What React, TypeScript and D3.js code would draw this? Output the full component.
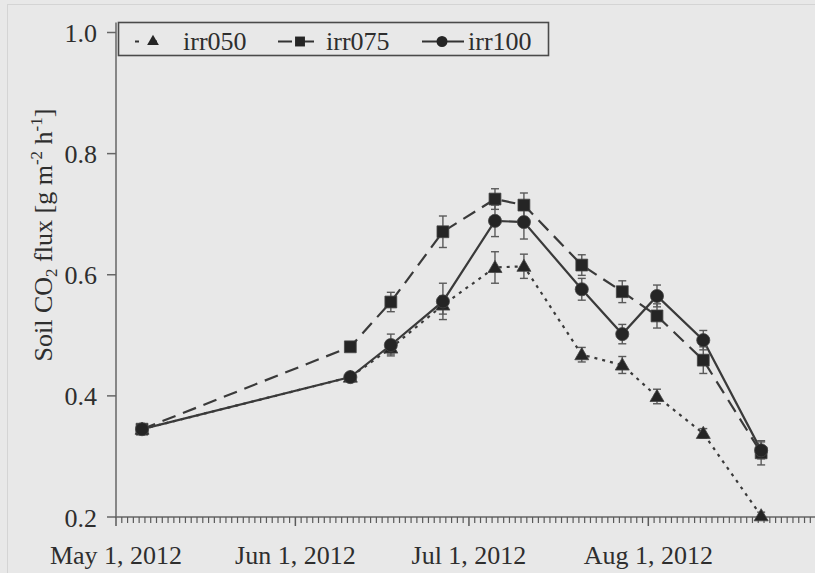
import React from "react";
import * as d3 from "d3";

// ---- data ----
const dates = [
  "2012-05-05T12:00",
  "2012-06-10T12:00",
  "2012-06-17T12:00",
  "2012-06-26T12:00",
  "2012-07-05T12:00",
  "2012-07-10T12:00",
  "2012-07-20T12:00",
  "2012-07-27T12:00",
  "2012-08-02T12:00",
  "2012-08-10T12:00",
  "2012-08-20T12:00",
];
const irr050 = [0.345, 0.431, 0.479, 0.55, 0.612, 0.614, 0.468, 0.451, 0.399, 0.338, 0.202];
const irr075 = [0.345, 0.481, 0.555, 0.671, 0.725, 0.715, 0.616, 0.572, 0.532, 0.459, 0.306];
const irr100 = [0.345, 0.431, 0.484, 0.556, 0.689, 0.687, 0.576, 0.502, 0.565, 0.492, 0.31];
const err050 = [0.004, 0.006, 0.01, 0.015, 0.026, 0.02, 0.012, 0.014, 0.012, 0.008, 0.006];
const err075 = [0.004, 0.006, 0.016, 0.026, 0.017, 0.02, 0.017, 0.018, 0.02, 0.022, 0.02];
const err100 = [0.004, 0.006, 0.018, 0.03, 0.026, 0.028, 0.018, 0.016, 0.018, 0.016, 0.014];
const seriesNames = ["irr050", "irr075", "irr100"];
const yTicks = [0.2, 0.4, 0.6, 0.8, 1.0];
const xTickDates = ["2012-05-01", "2012-06-01", "2012-07-01", "2012-08-01"];
const xTickLabels = ["May 1, 2012", "Jun 1, 2012", "Jul 1, 2012", "Aug 1, 2012"];

const W = 815;
const H = 573;
const BG = "#e8e8e8";
const INK = "#2e2e2e";
const AXIS = "#666";
const FONT = "'Liberation Serif', 'Times New Roman', serif";

const parseDT = d3.timeParse("%Y-%m-%dT%H:%M");
const parseD = d3.timeParse("%Y-%m-%d");

export default function App() {
  const x0 = 116;
  const pxPerDay = 5.786;
  const start = parseD("2012-05-01") as Date;
  const end = parseD("2012-09-01") as Date;
  const nDays = d3.timeDay.count(start, end);
  const x = d3.scaleTime().domain([start, end]).range([x0, x0 + pxPerDay * nDays]);
  const y = d3.scaleLinear().domain([0.2, 1.0]).range([517, 32.5]);

  const ds = dates.map((d) => parseDT(d) as Date);
  const series = [
    { name: seriesNames[0], vals: irr050, errs: err050, dash: "3,5", sym: d3.symbolTriangle, size: 85 },
    { name: seriesNames[1], vals: irr075, errs: err075, dash: "14,8", sym: d3.symbolSquare, size: 140 },
    { name: seriesNames[2], vals: irr100, errs: err100, dash: null, sym: d3.symbolCircle, size: 135 },
  ];

  const line = d3
    .line<number>()
    .x((_, i) => x(ds[i]))
    .y((v) => y(v));

  const axisY = y(0.2);
  const dayTicks = d3.timeDay.range(start, d3.timeDay.offset(end, 1));
  const majorSet = new Set(xTickDates.map((s) => (parseD(s) as Date).getTime()));

  const legendItems = [
    { s: series[0], x1: 135, x2: 168, mx: 153, tx: 183 },
    { s: series[1], x1: 278, x2: 320, mx: 300, tx: 326 },
    { s: series[2], x1: 422, x2: 464, mx: 442, tx: 468 },
  ];
  const legY = 41.5;

  return (
    <div style={{ position: "fixed", left: 0, top: 0 }}>
      <svg width={W} height={H} style={{ display: "block", background: BG }} fontFamily={FONT}>
        <rect x={0} y={0} width={W} height={H} fill={BG} />
        {/* faint frame of scanned figure */}
        <line x1={7.5} y1={4} x2={7.5} y2={H} stroke="#d4d4d4" strokeWidth={1} />
        <line x1={7} y1={4.5} x2={W} y2={4.5} stroke="#d4d4d4" strokeWidth={1} />

        {/* y axis */}
        <line x1={x0} y1={axisY} x2={x0} y2={22.5} stroke={AXIS} strokeWidth={1.5} />
        {yTicks.map((t) => (
          <g key={t}>
            <line x1={107} x2={x0} y1={y(t)} y2={y(t)} stroke={AXIS} strokeWidth={1.5} />
            <text x={97} y={y(t) + 9.5} textAnchor="end" fontSize={26} fill={INK}>
              {t.toFixed(1)}
            </text>
          </g>
        ))}

        {/* x axis */}
        <line x1={x0 - 1} x2={W} y1={axisY} y2={axisY} stroke={AXIS} strokeWidth={1.6} />
        {dayTicks.map((d) => {
          const major = majorSet.has(d.getTime());
          return (
            <line
              key={d.getTime()}
              x1={x(d)}
              x2={x(d)}
              y1={axisY}
              y2={axisY + (major ? 9 : 6)}
              stroke="#5a5a5a"
              strokeWidth={major ? 1.5 : 1.2}
            />
          );
        })}
        {xTickDates.map((s, i) => (
          <text key={s} x={x(parseD(s) as Date)} y={564} textAnchor="middle" fontSize={26} fill={INK}>
            {xTickLabels[i]}
          </text>
        ))}

        {/* y title */}
        <text
          transform={`translate(52, 235) rotate(-90)`}
          textAnchor="middle"
          fontSize={26}
          fill={INK}
        >
          Soil CO
          <tspan fontSize={17} dy={5}>2</tspan>
          <tspan dy={-5}> flux [g m</tspan>
          <tspan fontSize={17} dy={-10}>-2</tspan>
          <tspan dy={10}> h</tspan>
          <tspan fontSize={17} dy={-10}>-1</tspan>
          <tspan dy={10}>]</tspan>
        </text>

        {/* lines */}
        {series.map((s) => (
          <path
            key={s.name + "l"}
            d={line(s.vals) || ""}
            fill="none"
            stroke="#3a3a3a"
            strokeWidth={2.2}
            strokeDasharray={s.dash || undefined}
          />
        ))}

        {/* error bars */}
        {series.map((s) =>
          s.vals.map((v, i) => {
            const cx = x(ds[i]);
            const yt = y(v + s.errs[i]);
            const yb = y(v - s.errs[i]);
            return (
              <g key={s.name + "e" + i} stroke="#5a5a5a" strokeWidth={1.4}>
                <line x1={cx} x2={cx} y1={yt} y2={yb} />
                <line x1={cx - 4} x2={cx + 4} y1={yt} y2={yt} />
                <line x1={cx - 4} x2={cx + 4} y1={yb} y2={yb} />
              </g>
            );
          })
        )}

        {/* markers */}
        {series.map((s) =>
          s.vals.map((v, i) => (
            <path
              key={s.name + "m" + i}
              d={d3.symbol().type(s.sym).size(s.size)() || ""}
              transform={`translate(${x(ds[i])},${y(v) + (s.sym === d3.symbolTriangle ? 1 : 0)})`}
              fill="#252525"
              stroke="#444"
              strokeWidth={0.8}
            />
          ))
        )}

        {/* legend */}
        <rect x={118.5} y={22.5} width={430} height={33} fill={BG} stroke="#4a4a4a" strokeWidth={1.6} />
        {legendItems.map((it) => (
          <g key={it.s.name}>
            <line
              x1={it.x1}
              x2={it.x2}
              y1={legY}
              y2={legY}
              stroke="#333"
              strokeWidth={2.2}
              strokeDasharray={it.s.dash ? (it.s.name === "irr050" ? "4,14" : "14,8") : undefined}
            />
            <path
              d={d3.symbol().type(it.s.sym).size(it.s.size * 0.7)() || ""}
              transform={`translate(${it.mx},${legY})`}
              fill="#252525"
            />
            <text x={it.tx} y={50} fontSize={26} fill={INK}>
              {it.s.name}
            </text>
          </g>
        ))}
      </svg>
    </div>
  );
}
